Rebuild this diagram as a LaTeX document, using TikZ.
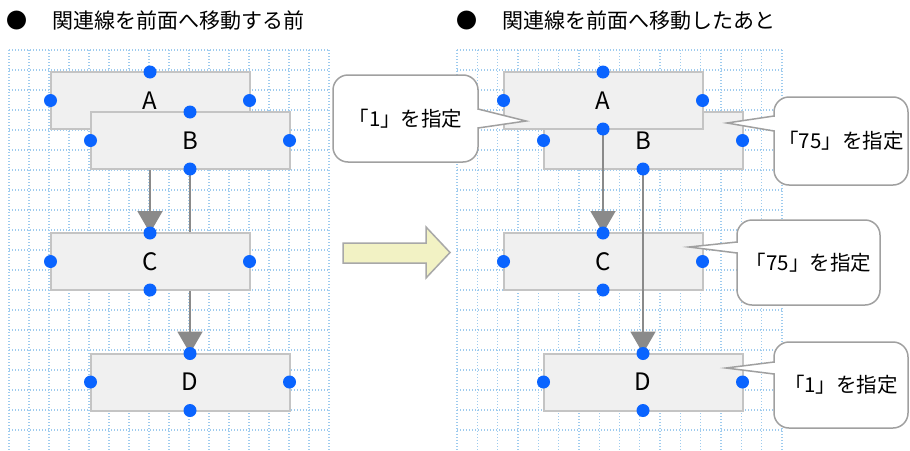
\documentclass[tikz,border=0pt]{standalone}
\usepackage{fontspec}
\setmainfont{Noto Sans CJK JP}
\usetikzlibrary{arrows.meta}
\definecolor{gridblue}{HTML}{9ECBEE}
\definecolor{boxfill}{HTML}{F0F0F0}
\definecolor{boxline}{HTML}{C4C4C4}
\definecolor{handle}{HTML}{0A64FF}
\definecolor{connc}{HTML}{8A8A8A}
\definecolor{callline}{HTML}{A0A0A0}
\definecolor{arrowfill}{HTML}{F2F2C4}
\definecolor{arrowline}{HTML}{A8A8A8}
\pgfdeclarelayer{gridl}
\pgfdeclarelayer{linel}
\pgfsetlayers{gridl,linel,main}
\begin{document}
\begin{tikzpicture}[x=1pt,y=-1pt,
 gridline/.style={gridblue, line width=1.3pt, dash pattern=on 1.4pt off 1.6pt},
 shapebox/.style={draw=boxline, fill=boxfill, line width=2pt, minimum width=199pt, minimum height=57pt, inner sep=0pt, outer sep=0pt, font=\fontsize{24pt}{24pt}\selectfont},
 handledot/.style={fill=handle},
 conn/.style={draw=connc, line width=2pt, -{Triangle[width=25pt,length=22pt,fill=connc]}},
 header/.style={anchor=west, inner sep=0pt, font=\fontsize{21pt}{21pt}\selectfont},
 bulletmark/.style={inner sep=0pt, font=\fontsize{21pt}{21pt}\selectfont},
 calltext/.style={draw=callline, fill=white, line width=1.5pt, rounded corners=15pt, inner sep=0pt, outer sep=0pt, font=\fontsize{20.5pt}{20.5pt}\selectfont},
 callptr/.style={draw=callline, line width=1.5pt, line join=miter},
 bigarrow/.style={fill=arrowfill, draw=arrowline, line width=1.5pt}
]
\useasboundingbox (0,0) rectangle (910,450);

% grids (with white page background underneath)
\begin{pgfonlayer}{gridl}
\fill[white] (0,0) rectangle (910,450);
\foreach \x in {9,29,...,329} \draw[gridline] (\x,50) -- (\x,450);
\foreach \y in {50,70,...,430} \draw[gridline] (9,\y) -- (329,\y);
\foreach \i in {0,...,16} \draw[gridline] (457+\i*20.3125,50) -- (457+\i*20.3125,450);
\foreach \y in {50,70,...,430} \draw[gridline] (457,\y) -- (782,\y);
\end{pgfonlayer}

% headers
\node[bulletmark] (b1) at (17,21) {●};
\node[header] (h1) at (52,21) {関連線を前面へ移動する前};
\node[bulletmark] (b2) at (467,21) {●};
\node[header] (h2) at (502,21) {関連線を前面へ移動したあと};

% ---------- left panel (connectors behind) ----------
\node[shapebox] (LA) at (150,100.5) {A};
\fill[handledot] (LA.north) circle (6.5) (LA.west) circle (6.5) (LA.east) circle (6.5);
\node[shapebox] (LB) at (190,140.5) {B};
\fill[handledot] (LB.north) circle (6.5) (LB.west) circle (6.5) (LB.east) circle (6.5) (LB.south) circle (6.5);
\node[shapebox] (LC) at (150,261.5) {C};
\fill[handledot] (LC.north) circle (6.5) (LC.west) circle (6.5) (LC.east) circle (6.5) (LC.south) circle (6.5);
\node[shapebox] (LD) at (190,382) {D};
\fill[handledot] (LD.north) circle (6.5) (LD.west) circle (6.5) (LD.east) circle (6.5) (LD.south) circle (6.5);
\begin{pgfonlayer}{linel}
\draw[conn] (LA.south) -- (LC.north);
\draw[conn] (LB.south) -- (LD.north);
\end{pgfonlayer}

% ---------- big arrow ----------
\draw[bigarrow] (343,243) -- (426,243) -- (426,227) -- (450,252.5) -- (426,278) -- (426,263) -- (343,263) -- cycle;

% ---------- right panel (connectors in front) ----------
\node[shapebox] (RB) at (643,140.5) {B};
\node[shapebox] (RA) at (603,100.5) {A};
\node[shapebox] (RC) at (603,261.5) {C};
\node[shapebox] (RD) at (643,382) {D};
\draw[conn] (RA.south) -- (RC.north);
\draw[conn] (RB.south) -- (RD.north);
\fill[handledot] (RB.west) circle (6.5) (RB.east) circle (6.5) (RB.south) circle (6.5);
\fill[handledot] (RA.north) circle (6.5) (RA.west) circle (6.5) (RA.east) circle (6.5) (RA.south) circle (6.5);
\fill[handledot] (RC.north) circle (6.5) (RC.west) circle (6.5) (RC.east) circle (6.5) (RC.south) circle (6.5);
\fill[handledot] (RD.north) circle (6.5) (RD.west) circle (6.5) (RD.east) circle (6.5) (RD.south) circle (6.5);

% ---------- callouts ----------
\node[calltext, minimum width=145pt, minimum height=87pt] (K1) at (405.5,118.5) {「1」を指定};
\fill[white] (475,110) -- (478,110) -- (526,121) -- (478,127) -- (475,127) -- cycle;
\draw[callptr] (478,109) -- (526,121) -- (478,128);

\node[calltext, minimum width=134pt, minimum height=88pt] (K2) at (841,141) {「75」を指定};
\fill[white] (777,117) -- (774,117) -- (727,123) -- (774,130) -- (777,130) -- cycle;
\draw[callptr] (774,116) -- (727,123) -- (774,131);

\node[calltext, minimum width=143pt, minimum height=85pt] (K3) at (808.5,262.5) {「75」を指定};
\fill[white] (740,243) -- (737,243) -- (689,247) -- (737,252) -- (740,252) -- cycle;
\draw[callptr] (737,242) -- (689,247) -- (737,253);

\node[calltext, minimum width=134pt, minimum height=86pt] (K4) at (841,385) {「1」を指定};
\fill[white] (777,363) -- (774,363) -- (726,368) -- (774,373) -- (777,373) -- cycle;
\draw[callptr] (774,362) -- (726,368) -- (774,374);
\end{tikzpicture}
\end{document}
